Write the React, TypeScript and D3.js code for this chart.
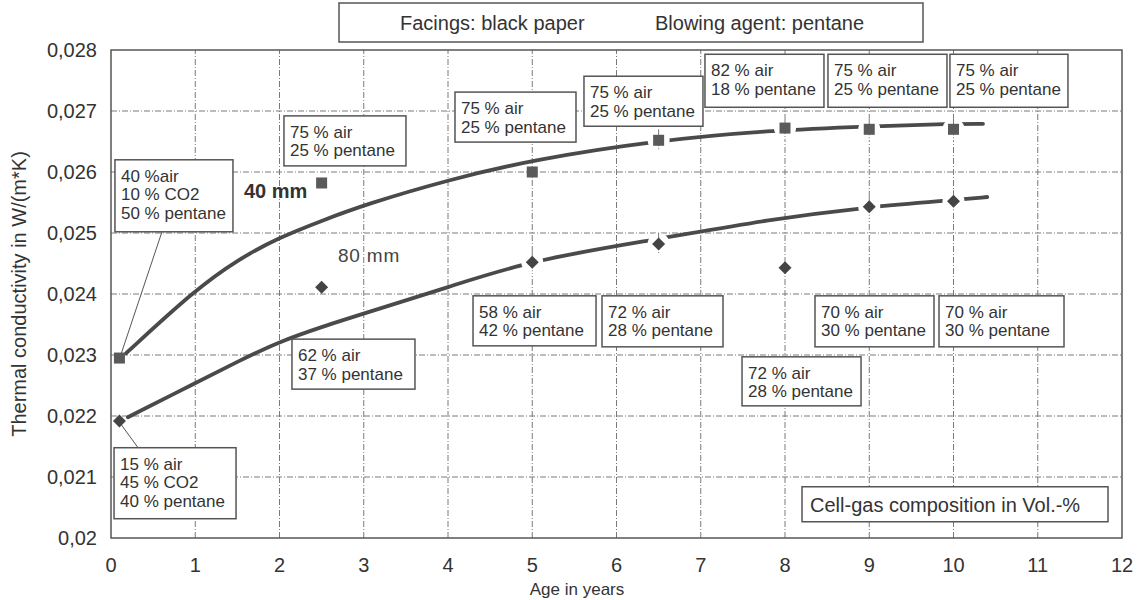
import React from 'react';
import * as d3 from 'd3';

// measured points (age in years, thermal conductivity W/(m*K))
const ages = [0.1, 2.5, 5, 6.5, 8, 9, 10];
const lambda40mm = [0.02295, 0.02582, 0.026, 0.02652, 0.02672, 0.0267, 0.0267];
const lambda80mm = [0.02192, 0.02411, 0.02452, 0.02482, 0.02443, 0.02543, 0.02552];

// hand-drawn trend curves
const trendAges40 = [0.18, 1, 1.5, 2, 2.5, 3, 4, 5, 6.5, 7.8, 9, 10, 10.35];
const trend40 = [0.02303, 0.02407, 0.02456, 0.02493, 0.0252, 0.02546, 0.02587, 0.0262, 0.02652, 0.02668, 0.02675, 0.02679, 0.02679];
const trendAges80 = [0.2, 1, 1.5, 2, 2.5, 3, 4, 5, 6.5, 7.8, 9, 10, 10.4];
const trend80 = [0.02198, 0.02254, 0.02289, 0.02322, 0.02346, 0.02368, 0.02411, 0.02456, 0.0249, 0.02522, 0.02543, 0.02554, 0.02559];

const xTicks = [0, 1, 2, 3, 4, 5, 6, 7, 8, 9, 10, 11, 12];
const yTicks = [0.02, 0.021, 0.022, 0.023, 0.024, 0.025, 0.026, 0.027, 0.028];

// cell-gas composition labels
const gasLabels = [
  ['40 %air', '10 % CO2', '50 % pentane'],
  ['75 % air', '25 % pentane'],
  ['75 % air', '25 % pentane'],
  ['75 % air', '25 % pentane'],
  ['82 % air', '18 % pentane'],
  ['75 % air', '25 % pentane'],
  ['75 % air', '25 % pentane'],
  ['62 % air', '37 % pentane'],
  ['15 % air', '45 % CO2', '40 % pentane'],
  ['58 % air', '42 % pentane'],
  ['72 % air', '28 % pentane'],
  ['72 % air', '28 % pentane'],
  ['70 % air', '30 % pentane'],
  ['70 % air', '30 % pentane'],
];

// box placement: top-left corner in data units, size in px
const gasLayout = [
  { x: 0.047, y: 0.0262, w: 118, h: 72 },
  { x: 2.053, y: 0.02692, w: 122, h: 50 },
  { x: 4.083, y: 0.02731, w: 121, h: 50 },
  { x: 5.614, y: 0.02757, w: 119, h: 50 },
  { x: 7.05, y: 0.02793, w: 119, h: 53 },
  { x: 8.51, y: 0.02793, w: 119, h: 53 },
  { x: 9.958, y: 0.02793, w: 118, h: 53 },
  { x: 2.148, y: 0.02326, w: 123, h: 50 },
  { x: 0.036, y: 0.02148, w: 122, h: 71 },
  { x: 4.297, y: 0.02397, w: 123, h: 50 },
  { x: 5.828, y: 0.02397, w: 121, h: 51 },
  { x: 7.49, y: 0.02297, w: 119, h: 49 },
  { x: 8.356, y: 0.02397, w: 119, h: 51 },
  { x: 9.828, y: 0.02397, w: 125, h: 51 },
];

const W = 1139;
const H = 600;
const margin = { left: 111, right: 17, top: 50, bottom: 62 };
const FONT = '"Liberation Sans", Arial, sans-serif';
const INK = '#333';
const GRID = '#7a7a7a';

const App: React.FC = () => {
  const x = d3.scaleLinear().domain([0, 12]).range([margin.left, W - margin.right]);
  const y = d3.scaleLinear().domain([0.02, 0.028]).range([H - margin.bottom, margin.top]);

  const line = d3.line<[number, number]>()
    .x(d => x(d[0]))
    .y(d => y(d[1]))
    .curve(d3.curveBasis);

  const path40 = line(trendAges40.map((a, i) => [a, trend40[i]]));
  const path80 = line(trendAges80.map((a, i) => [a, trend80[i]]));

  const pts40 = ages.map((a, i) => [x(a), y(lambda40mm[i])]);
  const pts80 = ages.map((a, i) => [x(a), y(lambda80mm[i])]);

  const [x0, x1] = x.range();
  const [y0, y1] = y.range();

  const box = (i: number) => {
    const l = gasLayout[i];
    return { bx: x(l.x), by: y(l.y), w: l.w, h: l.h };
  };
  const bA = box(0);
  const bI = box(8);

  // markers sitting on the curve break the drawn line around them
  const gapPts = [...pts40.slice(3), ...pts80.slice(2, 4), ...pts80.slice(5)];

  return (
    <svg width={W} height={H} style={{ position: 'absolute', left: 0, top: 0, background: '#fff' }} fontFamily={FONT}>
      {/* grid */}
      {xTicks.slice(1, -1).map(t => (
        <line key={'gx' + t} x1={x(t)} x2={x(t)} y1={y0} y2={y1} stroke={GRID} strokeWidth={1} strokeDasharray="6 2 1 2" />
      ))}
      {yTicks.slice(1, -1).map(t => (
        <line key={'gy' + t} x1={x0} x2={x1} y1={y(t)} y2={y(t)} stroke={GRID} strokeWidth={1} strokeDasharray="6 2 1 2" />
      ))}
      <rect x={x0} y={y1} width={x1 - x0} height={y0 - y1} fill="none" stroke="#555" strokeWidth={1.5} />

      {/* ticks */}
      {xTicks.map(t => (
        <text key={'tx' + t} x={x(t)} y={y0 + 34} textAnchor="middle" fontSize={20} fill={INK}>{t}</text>
      ))}
      {yTicks.map(t => (
        <text key={'ty' + t} x={x0 - 14} y={y(t) + 7} textAnchor="end" fontSize={20} fill={INK}>
          {String(+t.toFixed(3)).replace('.', ',')}
        </text>
      ))}
      <text x={577} y={595} textAnchor="middle" fontSize={17} fill={INK}>Age in years</text>
      <text transform={`translate(26,${(y0 + y1) / 2}) rotate(-90)`} textAnchor="middle" fontSize={20} fill={INK}>
        Thermal conductivity in W/(m*K)
      </text>

      {/* leader lines */}
      <line x1={bA.bx + 47} y1={bA.by + bA.h} x2={pts40[0][0] + 2} y2={pts40[0][1] - 5} stroke="#555" strokeWidth={1} />
      <line x1={bI.bx + 24} y1={bI.by} x2={pts80[0][0] + 2} y2={pts80[0][1] + 4} stroke="#555" strokeWidth={1} />

      {/* trend curves */}
      <path d={path40 ?? ''} fill="none" stroke="#4a4a4a" strokeWidth={3.8} strokeLinecap="round" />
      <path d={path80 ?? ''} fill="none" stroke="#4a4a4a" strokeWidth={3.8} strokeLinecap="round" />
      {gapPts.map((p, i) => (
        <circle key={'g' + i} cx={p[0]} cy={p[1]} r={11} fill="#fff" />
      ))}
      {gapPts.map((p, i) => (
        <line key={'gv' + i} x1={p[0]} x2={p[0]} y1={p[1] - 11} y2={p[1] + 11} stroke={GRID} strokeWidth={1} strokeDasharray="6 2 1 2" />
      ))}

      {/* markers */}
      {pts40.map((p, i) => (
        <rect key={'s' + i} x={p[0] - 5.5} y={p[1] - 5.5} width={11} height={11} fill="#5a5a5a" />
      ))}
      {pts80.map((p, i) => (
        <path key={'d' + i} d={`M${p[0]},${p[1] - 6.5}L${p[0] + 6.5},${p[1]}L${p[0]},${p[1] + 6.5}L${p[0] - 6.5},${p[1]}Z`} fill="#444" />
      ))}

      {/* composition boxes */}
      {gasLabels.map((lines, i) => {
        const b = box(i);
        return (
          <g key={'b' + i}>
            <rect x={b.bx} y={b.by} width={b.w} height={b.h} fill="#fff" stroke="#555" strokeWidth={1.5} />
            {lines.map((s, j) => (
              <text key={j} x={b.bx + 6} y={b.by + 22 + j * 18.5} fontSize={17} fill={INK}>{s}</text>
            ))}
          </g>
        );
      })}

      <text x={244} y={198} fontSize={20} fontWeight="bold" fill={INK}>40 mm</text>
      <text x={338} y={262} fontSize={19} fill="#444" letterSpacing={0.8}>80 mm</text>

      {/* header and note */}
      <rect x={339} y={3} width={584} height={39} fill="#fff" stroke="#555" strokeWidth={1.5} />
      <text x={400} y={30} fontSize={20} fill={INK}>Facings: black paper</text>
      <text x={655} y={30} fontSize={20} fill={INK}>Blowing agent: pentane</text>

      <rect x={x(8.202)} y={y(0.02084)} width={306} height={35} fill="#fff" stroke="#555" strokeWidth={1.5} />
      <text x={x(8.202) + 8} y={y(0.02084) + 25} fontSize={20} fill={INK}>Cell-gas composition in Vol.-%</text>
    </svg>
  );
};

export default App;
